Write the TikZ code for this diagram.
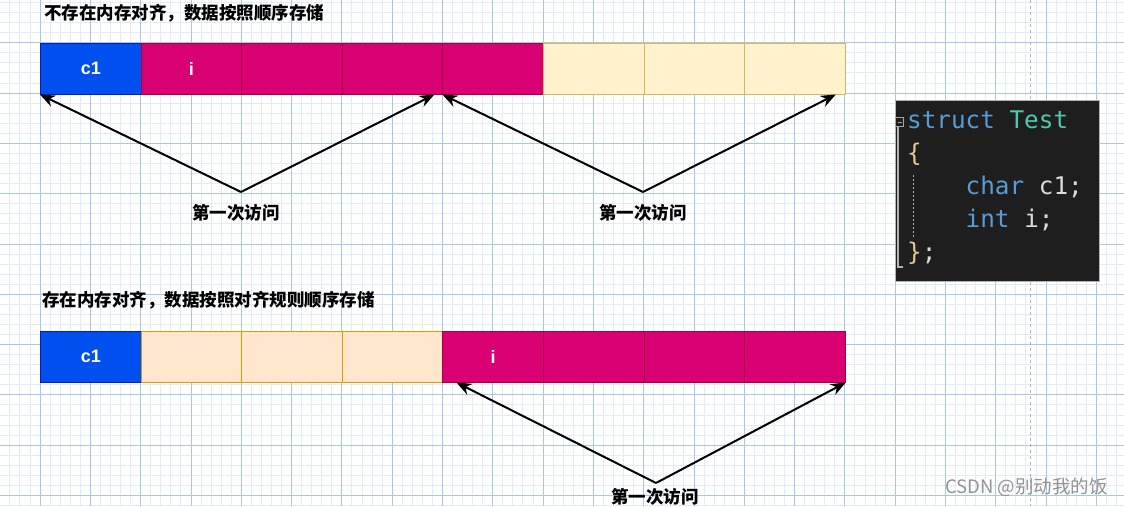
\documentclass[tikz,border=0pt]{standalone}
\usepackage{fontspec}
\newfontfamily\cjk{Noto Sans CJK SC}
\newfontfamily\lsans{Liberation Sans}
\newfontfamily\codefont{DejaVu Sans Mono}
\usetikzlibrary{arrows.meta}
\definecolor{gridminor}{HTML}{E2ECF6}
\definecolor{gridmajor}{HTML}{A8C8E4}
\definecolor{cblue}{HTML}{0050EF}
\definecolor{cblueb}{HTML}{001DBC}
\definecolor{cmag}{HTML}{D80073}
\definecolor{cmagb}{HTML}{A50040}
\definecolor{cyel}{HTML}{FFF2CC}
\definecolor{cyelb}{HTML}{D6B656}
\definecolor{cpea}{HTML}{FFE6CC}
\definecolor{cpeab}{HTML}{D79B00}
\definecolor{codebg}{HTML}{1E1E1E}
\definecolor{kwblue}{HTML}{569CD6}
\definecolor{tyteal}{HTML}{4EC9B0}
\definecolor{idlight}{HTML}{DCDCDC}
\definecolor{brace}{HTML}{E3C98E}
\tikzset{
  cell/.style={draw, line width=1pt, minimum width=100.6pt, minimum height=50.5pt, inner sep=0pt, anchor=north west},
  bluecell/.style={cell, fill=cblue, draw=cblueb},
  magcell/.style={cell, fill=cmag, draw=cmagb},
  yelcell/.style={cell, fill=cyel, draw=cyelb},
  peacell/.style={cell, fill=cpea, draw=cpeab},
  celltext/.style={text=white, font=\lsans\bfseries\fontsize{18}{21}\selectfont},
  title/.style={anchor=west, inner sep=0pt, font=\cjk\bfseries\fontsize{17.5}{20}\selectfont},
  lbl/.style={inner sep=0pt, font=\cjk\bfseries\fontsize{17.5}{20}\selectfont},
  arr/.style={line width=2pt, -{Stealth[length=15pt,width=12pt]}},
  codeline/.style={anchor=base west, inner sep=0pt, font=\codefont\fontsize{24.3}{28}\selectfont},
}
\begin{document}
\begin{tikzpicture}[x=1pt,y=-1pt]
\useasboundingbox (0,0) rectangle (1124,506);
\fill[white] (0,0) rectangle (1124,506);
% grid
\foreach \i in {-3,...,108} {
  \draw[gridminor, line width=0.8pt] ({40+10.06*\i},0) -- ({40+10.06*\i},506);
}
\foreach \i in {-4,...,46} {
  \draw[gridminor, line width=0.8pt] (0,{42.7+10.06*\i}) -- (1124,{42.7+10.06*\i});
}
\foreach \i in {-1,...,21} {
  \draw[gridmajor, line width=0.8pt] ({40+50.3*\i},0) -- ({40+50.3*\i},506);
}
\foreach \i in {-1,...,9} {
  \draw[gridmajor, line width=0.8pt] (0,{42.7+50.3*\i}) -- (1124,{42.7+50.3*\i});
}
\draw[gray!60, dashed, line width=1pt] (1030,0) -- (1030,506);

% titles
\node[title] (title1) at (44,13) {不存在内存对齐，数据按照顺序存储};
\node[title] (title2) at (42,300) {存在内存对齐，数据按照对齐规则顺序存储};

% top row
\node[bluecell] (t1) at (40,43) {};
\node[magcell] (t2) at (140.6,43) {};
\node[magcell] (t3) at (241.2,43) {};
\node[magcell] (t4) at (341.8,43) {};
\node[magcell] (t5) at (442.4,43) {};
\node[yelcell] (t6) at (543,43) {};
\node[yelcell] (t7) at (643.6,43) {};
\node[yelcell] (t8) at (744.2,43) {};
\node[celltext] (t1l) at (t1.center) {c1};
\node[celltext] (t2l) at (t2.center) {i};

% bottom row
\node[bluecell] (b1) at (40,331) {};
\node[peacell] (b2) at (140.6,331) {};
\node[peacell] (b3) at (241.2,331) {};
\node[peacell] (b4) at (341.8,331) {};
\node[magcell] (b5) at (442.4,331) {};
\node[magcell] (b6) at (543,331) {};
\node[magcell] (b7) at (643.6,331) {};
\node[magcell] (b8) at (744.2,331) {};
\node[celltext] (b1l) at (b1.center) {c1};
\node[celltext] (b5l) at (b5.center) {i};

% arrows
\coordinate (apex1) at (241,192);
\coordinate (apex2) at (643,192);
\coordinate (apex3) at (656,483);
\draw[arr] (apex1) -- (t1.south west);
\draw[arr] (apex1) -- ([xshift=-9pt]t4.south east);
\draw[arr] (apex2) -- (t5.south west);
\draw[arr] (apex2) -- ([xshift=-10pt]t8.south east);
\draw[arr] (apex3) -- ([xshift=14pt]b5.south west);
\draw[arr] (apex3) -- (b8.south east);

\node[lbl] (l1) at (236,213) {第一次访问};
\node[lbl] (l2) at (643,213) {第一次访问};
\node[lbl] (l3) at (655,496.5) {第一次访问};

% code block
\node[fill=codebg, draw=gray!60, line width=0.6pt, minimum width=204pt, minimum height=181pt, anchor=north west, inner sep=0pt] (code) at (895,100) {};
\draw[gray!70, line width=0.8pt] (895.5,117.5) rectangle (903.5,126.5);
\draw[gray!70, line width=0.8pt] (897.5,122) -- (901.5,122);
\draw[gray!60, line width=1.2pt] (898,127) -- (898,267) -- (903,267);
\draw[gray!60, line width=1pt, dash pattern=on 2pt off 2pt] (913,175) -- (913,238);
\node[codeline] (c1) at (907,128) {\textcolor{kwblue}{struct} \textcolor{tyteal}{Test}};
\node[codeline] (c2) at (907,161) {\textcolor{brace}{\{}};
\node[codeline] (c3) at (907,194) {\phantom{xxxx}\textcolor{kwblue}{char} \textcolor{idlight}{c1;}};
\node[codeline] (c4) at (907,227) {\phantom{xxxx}\textcolor{kwblue}{int} \textcolor{idlight}{i;}};
\node[codeline] (c5) at (907,260) {\textcolor{brace}{\}}\textcolor{idlight}{;}};

% watermark
\node[anchor=east, inner sep=0pt, text=gray!85, font=\cjk\fontsize{18.5}{21}\selectfont] (wm) at (1108,487) {CSDN @别动我的饭};
\end{tikzpicture}
\end{document}
